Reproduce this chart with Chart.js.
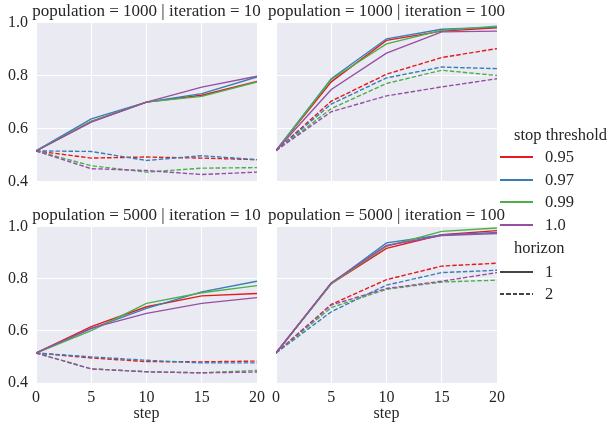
<!DOCTYPE html>
<html>
<head>
<meta charset="utf-8">
<script src="https://cdn.jsdelivr.net/npm/chart.js@4.4.0/dist/chart.umd.min.js"></script>
<style>
  body { margin: 0; width: 611px; height: 426px; background: #fff; position: relative; overflow: hidden;
         font-family: 'Liberation Serif', 'DejaVu Serif', serif; color: #262626; }
  canvas { position: absolute; }
  .lg { position: absolute; font-size: 16.5px; line-height: 20px; white-space: nowrap; }
  .sw { position: absolute; left: 500px; width: 33px; height: 1.5px; }
  .dash { background: repeating-linear-gradient(90deg, #444 0 4.5px, transparent 4.5px 6.5px); }
</style>
</head>
<body>
<!-- left panel needs 9px more: its bottom y label pushes the plot up -->
<canvas id="c1" width="293" height="199" style="left:0;top:0"></canvas>
<canvas id="c2" width="293" height="190" style="left:240px;top:0"></canvas>
<canvas id="c3" width="293" height="222" style="left:0;top:204px"></canvas>
<canvas id="c4" width="293" height="222" style="left:240px;top:204px"></canvas>

<div class="lg" style="left:514px;top:125px">stop threshold</div>
<div class="sw" style="top:156px;background:#e41a1c"></div><div class="lg" style="left:545px;top:147px">0.95</div>
<div class="sw" style="top:179px;background:#377eb8"></div><div class="lg" style="left:545px;top:170px">0.97</div>
<div class="sw" style="top:201px;background:#4daf4a"></div><div class="lg" style="left:545px;top:192px">0.99</div>
<div class="sw" style="top:224px;background:#984ea3"></div><div class="lg" style="left:545px;top:215px">1.0</div>
<div class="lg" style="left:514px;top:238px">horizon</div>
<div class="sw" style="top:271px;background:#444"></div><div class="lg" style="left:545px;top:262px">1</div>
<div class="sw dash" style="top:293px"></div><div class="lg" style="left:545px;top:284px">2</div>

<script>
/* ── data ───────────────────────────── */
const steps      = [0, 5, 10, 15, 20];
const thresholds = ['0.95', '0.97', '0.99', '1.0'];
const colors     = ['#e41a1c', '#377eb8', '#4daf4a', '#984ea3'];
const yTicks     = [0.4, 0.6, 0.8, 1.0];

// rows follow thresholds: 0.95, 0.97, 0.99, 1.0
const p1000_it10_h1 = [
  [0.515, 0.626, 0.699, 0.725, 0.777],
  [0.515, 0.636, 0.699, 0.731, 0.794],
  [0.515, 0.626, 0.699, 0.721, 0.775],
  [0.515, 0.624, 0.699, 0.756, 0.797]
];
const p1000_it10_h2 = [
  [0.515, 0.488, 0.492, 0.488, 0.482],
  [0.515, 0.513, 0.479, 0.497, 0.482],
  [0.515, 0.459, 0.435, 0.450, 0.452],
  [0.515, 0.448, 0.441, 0.426, 0.435]
];
const p1000_it100_h1 = [
  [0.515, 0.775, 0.932, 0.967, 0.980],
  [0.515, 0.787, 0.938, 0.974, 0.982],
  [0.515, 0.784, 0.919, 0.970, 0.986],
  [0.515, 0.746, 0.884, 0.964, 0.967]
];
const p1000_it100_h2 = [
  [0.515, 0.702, 0.804, 0.867, 0.901],
  [0.515, 0.691, 0.790, 0.831, 0.825],
  [0.515, 0.674, 0.769, 0.819, 0.799],
  [0.515, 0.662, 0.722, 0.756, 0.787]
];
const p5000_it10_h1 = [
  [0.515, 0.616, 0.692, 0.734, 0.743],
  [0.515, 0.608, 0.686, 0.749, 0.790],
  [0.515, 0.601, 0.705, 0.746, 0.773],
  [0.515, 0.610, 0.667, 0.705, 0.727]
];
const p5000_it10_h2 = [
  [0.515, 0.496, 0.482, 0.481, 0.484],
  [0.515, 0.500, 0.487, 0.477, 0.477],
  [0.515, 0.454, 0.443, 0.439, 0.448],
  [0.515, 0.454, 0.443, 0.439, 0.442]
];
const p5000_it100_h1 = [
  [0.515, 0.781, 0.916, 0.968, 0.984],
  [0.515, 0.781, 0.937, 0.967, 0.977],
  [0.515, 0.781, 0.924, 0.981, 0.994],
  [0.515, 0.784, 0.927, 0.965, 0.973]
];
const p5000_it100_h2 = [
  [0.515, 0.701, 0.796, 0.848, 0.859],
  [0.515, 0.673, 0.775, 0.823, 0.832],
  [0.515, 0.689, 0.759, 0.787, 0.794],
  [0.515, 0.699, 0.762, 0.790, 0.823]
];

/* ── helpers ────────────────────────── */
const ink  = '#262626';
const font = "'Liberation Serif', 'DejaVu Serif', serif";

const plotBg = {
  id: 'plotBg',
  beforeDraw(chart) {
    const { ctx, chartArea: a } = chart;
    ctx.save();
    ctx.fillStyle = '#eaeaf2';
    ctx.fillRect(a.left, a.top, a.right - a.left, a.bottom - a.top);
    ctx.restore();
  }
};

function datasets(h1, h2) {
  const out = [];
  let k = 0;
  thresholds.forEach((t, i) => {
    [[h1[i], []], [h2[i], [4.5, 2]]].forEach(([vals, dash]) => {
      out.push({
        label: t,
        data: steps.map((s, j) => ({ x: s, y: vals[j] })),
        borderColor: colors[i], borderWidth: 1.4, borderDash: dash,
        pointRadius: 0, tension: 0, fill: false,
        order: 100 - k++
      });
    });
  });
  return out;
}

function panel(id, title, h1, h2, showY, showX) {
  new Chart(id, {
    type: 'line',
    data: { datasets: datasets(h1, h2) },
    plugins: [plotBg],
    options: {
      responsive: false, animation: false, events: [],
      layout: { padding: 0 },
      plugins: {
        legend: { display: false }, tooltip: { enabled: false },
        title: { display: true, text: title, color: ink, padding: { top: 1, bottom: 1 },
                 font: { family: font, size: 17, weight: 'normal' } }
      },
      scales: {
        x: {
          type: 'linear', min: 0, max: 20,
          afterFit: s => { s.height = showX ? 43 : 9; },
          grid: { color: '#fff', lineWidth: 1, drawTicks: false },
          border: { display: false },
          ticks: { display: showX, stepSize: 5, padding: 5, color: ink, font: { family: font, size: 16 } },
          title: { display: showX, text: 'step', color: ink, padding: { top: 0, bottom: 3 },
                   font: { family: font, size: 16 } }
        },
        y: {
          min: 0.4, max: 1.0,
          afterFit: s => { s.width = 36; },
          afterBuildTicks: s => { s.ticks = yTicks.map(v => ({ value: v })); },
          grid: { color: '#fff', lineWidth: 1, drawTicks: false },
          border: { display: false },
          ticks: { display: showY, padding: 8, color: ink, font: { family: font, size: 16 },
                   callback: v => v.toFixed(1) }
        },
        yr: {
          position: 'right',
          afterFit: s => { s.width = 36; },
          grid: { display: false }, border: { display: false },
          ticks: { display: false }
        }
      }
    }
  });
}

panel('c1', 'population = 1000 | iteration = 10',  p1000_it10_h1,  p1000_it10_h2,  true,  false);
panel('c2', 'population = 1000 | iteration = 100', p1000_it100_h1, p1000_it100_h2, false, false);
panel('c3', 'population = 5000 | iteration = 10',  p5000_it10_h1,  p5000_it10_h2,  true,  true);
panel('c4', 'population = 5000 | iteration = 100', p5000_it100_h1, p5000_it100_h2, false, true);
</script>
</body>
</html>
